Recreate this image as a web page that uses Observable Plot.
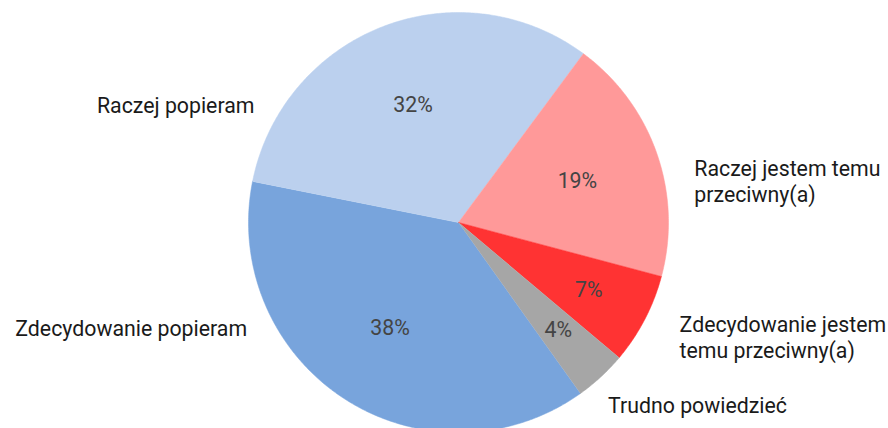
<!DOCTYPE html>
<html>
<head>
<meta charset="utf-8">
<script src="https://cdn.jsdelivr.net/npm/d3@7"></script>
<script src="https://cdn.jsdelivr.net/npm/@observablehq/plot@0.6"></script>
<style>
  html, body { margin: 0; padding: 0; background: #fff; overflow: hidden; }
  #chart svg { display: block; }
</style>
</head>
<body>
<div id="chart"></div>
<script>
// ---- data ----
const categories = ["Zdecydowanie popieram", "Raczej popieram", "Raczej jestem temu przeciwny(a)", "Zdecydowanie jestem temu przeciwny(a)", "Trudno powiedzieć"];
const labelText = ["Zdecydowanie popieram", "Raczej popieram", "Raczej jestem temu\nprzeciwny(a)", "Zdecydowanie jestem\ntemu przeciwny(a)", "Trudno powiedzieć"];
const values = [38, 32, 19, 7, 4];
const pctLabels = ["38%", "32%", "19%", "7%", "4%"];
const colors = ["#78a4dc", "#bbd0ee", "#ff9999", "#ff3333", "#a6a6a6"];

// ---- layout ----
const W = 888, H = 428;
const cx = 458, cy = 222, R = 210;
const startAngle = 144.5; // degrees, clockwise from 12 o'clock
const FS = 21.3;
const rad = d => d * Math.PI / 180;

const total = d3.sum(values);
let a0 = startAngle;
const slices = values.map((v, i) => {
  const a1 = a0 + v / total * 360;
  const s = {cat: categories[i], a0, a1, mid: (a0 + a1) / 2, value: v, i};
  a0 = a1;
  return s;
});

// polygon points in data space (unit circle)
const points = [];
for (const s of slices) {
  points.push({cat: s.cat, x: 0, y: 0});
  const steps = Math.max(2, Math.ceil((s.a1 - s.a0) / 0.5));
  for (let k = 0; k <= steps; k++) {
    const a = rad(s.a0 + (s.a1 - s.a0) * k / steps);
    points.push({cat: s.cat, x: Math.sin(a), y: Math.cos(a)});
  }
}

// percentage labels inside slices
const pct = slices.map(s => {
  const r = s.value >= 10 ? 0.6 : 0.7;
  return {x: r * Math.sin(rad(s.mid)), y: r * Math.cos(rad(s.mid)), text: pctLabels[s.i]};
});

// outer category labels
const outer = slices.map(s => {
  const big = s.value >= 10;
  const ry = big ? 0.6 : 1.18;
  const y = ry * Math.cos(rad(s.mid));
  const right = (((s.mid % 360) + 360) % 360) < 180;
  const edge = Math.abs(y) < 1 ? Math.sqrt(1 - y * y) : 0;
  const gap = (big ? 30 : 45) / R;
  const x = right ? edge + gap : -(edge + gap);
  return {x, y, text: labelText[s.i], right};
});

const chart = Plot.plot({
  width: W,
  height: H,
  margin: 0,
  x: {domain: [-1, 1], range: [cx - R, cx + R], axis: null},
  y: {domain: [-1, 1], range: [cy + R, cy - R], axis: null},
  color: {domain: categories, range: colors},
  style: {fontFamily: "Roboto, sans-serif", background: "#fff", overflow: "hidden"},
  marks: [
    Plot.line(points, {x: "x", y: "y", z: "cat", fill: "cat", stroke: "cat", strokeWidth: 0.5}),
    Plot.text(pct, {x: "x", y: "y", text: "text", fontSize: FS, fill: "#444"}),
    Plot.text(outer.filter(d => !d.right), {x: "x", y: "y", text: "text", textAnchor: "end", fontSize: FS, fill: "#1a1a1a", lineHeight: 1.2}),
    Plot.text(outer.filter(d => d.right), {x: "x", y: "y", text: "text", textAnchor: "start", fontSize: FS, fill: "#1a1a1a", lineHeight: 1.2})
  ]
});
document.getElementById("chart").appendChild(chart);
</script>
</body>
</html>
